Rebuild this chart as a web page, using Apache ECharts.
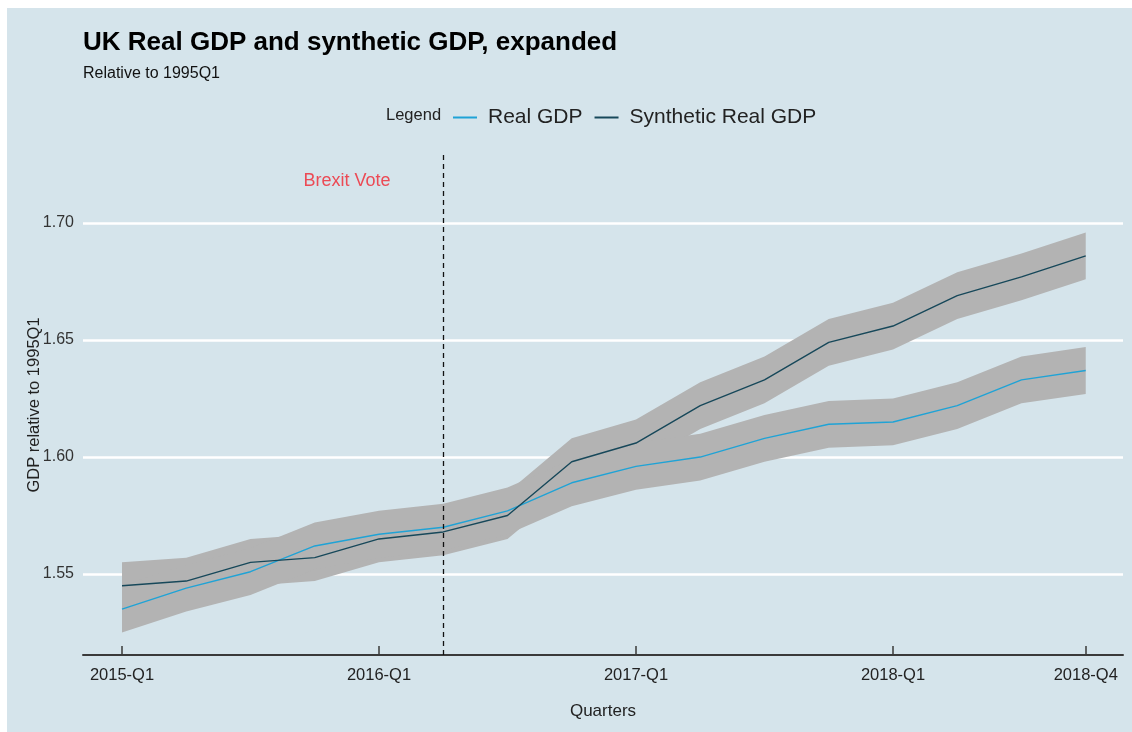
<!DOCTYPE html>
<html>
<head>
<meta charset="utf-8">
<script src="https://cdn.jsdelivr.net/npm/echarts@6/dist/echarts.min.js"></script>
<style>
  html, body { margin: 0; padding: 0; background: #ffffff; }
  #chart { width: 1132px; height: 732px; }
</style>
</head>
<body>
<div id="chart"></div>
<script>
// Quarterly GDP, indexed to 1995Q1
const quarters = [
  '2015-Q1', '2015-Q2', '2015-Q3', '2015-Q4',
  '2016-Q1', '2016-Q2', '2016-Q3', '2016-Q4',
  '2017-Q1', '2017-Q2', '2017-Q3', '2017-Q4',
  '2018-Q1', '2018-Q2', '2018-Q3', '2018-Q4'
];
const realGdp = [
  1.535, 1.544, 1.551, 1.562, 1.567, 1.570, 1.577, 1.589,
  1.596, 1.600, 1.608, 1.614, 1.615, 1.622, 1.633, 1.637
];
const syntheticGdp = [
  1.545, 1.547, 1.555, 1.557, 1.565, 1.568, 1.575, 1.598,
  1.606, 1.622, 1.633, 1.649, 1.656, 1.669, 1.677, 1.686
];
// Half-width of the shaded band around each series
const bandHalfWidth = 0.01;
const xTickQuarters = ['2015-Q1', '2016-Q1', '2017-Q1', '2018-Q1', '2018-Q4'];
const yTicks = [1.55, 1.60, 1.65, 1.70];
const brexitQuarter = '2016-Q2';

const BG = '#d5e4eb';
const BAND = '#b3b3b3';
const REAL_COLOR = '#1fa3d6';
const SYN_COLOR = '#17485a';
const FONT = 'Liberation Sans, Arial, sans-serif';

const idx = q => quarters.indexOf(q);
const xTickIdx = xTickQuarters.map(idx);
const brexitIdx = idx(brexitQuarter);

// Shaded ribbon (value ± bandHalfWidth) drawn as one polygon through the axes' scales
function bandSeries(name, values) {
  return {
    name: name + ' band', type: 'custom', silent: true, z: 1,
    data: values.map((v, i) => [i, v - bandHalfWidth, v + bandHalfWidth]),
    encode: { x: 0, y: [1, 2] },
    renderItem: function (params, api) {
      if (params.dataIndex !== 0) return null;
      const upper = values.map((v, i) => api.coord([i, v + bandHalfWidth]));
      const lower = values.map((v, i) => api.coord([i, v - bandHalfWidth])).reverse();
      return {
        type: 'polygon',
        shape: { points: upper.concat(lower) },
        style: { fill: BAND, stroke: null }
      };
    }
  };
}

const chart = echarts.init(document.getElementById('chart'), null, { renderer: 'canvas' });

chart.setOption({
  backgroundColor: BG,
  animation: false,
  title: {
    text: 'UK Real GDP and synthetic GDP, expanded',
    subtext: 'Relative to 1995Q1',
    left: 78, top: 25,
    itemGap: 10,
    textStyle: { fontFamily: FONT, fontSize: 26, fontWeight: 'bold', color: '#000' },
    subtextStyle: { fontFamily: FONT, fontSize: 16, color: '#111' }
  },
  legend: {
    data: ['Real GDP', 'Synthetic Real GDP'],
    left: 448, top: 102,
    itemWidth: 24, itemHeight: 2, itemGap: 12,
    icon: 'rect',
    textStyle: { fontFamily: FONT, fontSize: 21, color: '#222', padding: [0, 0, 0, 6] }
  },
  graphic: [
    { type: 'rect', shape: { x: 0, y: 0, width: 1132, height: 8 }, style: { fill: '#ffffff' }, silent: true },
    { type: 'rect', shape: { x: 0, y: 0, width: 7, height: 732 }, style: { fill: '#ffffff' }, silent: true },
    {
      type: 'text', x: 386, y: 115,
      style: { text: 'Legend', fontFamily: FONT, fontSize: 16.5, fill: '#222', verticalAlign: 'middle' }
    },
    {
      type: 'text', x: 347, y: 181,
      style: {
        text: 'Brexit Vote', fontFamily: FONT, fontSize: 18,
        fill: '#ec4a55', align: 'center', verticalAlign: 'middle'
      }
    }
  ],
  grid: { left: 83, right: 9, top: 155, bottom: 77, containLabel: false },
  xAxis: {
    type: 'value',
    min: -0.607, max: 15.58,
    name: 'Quarters',
    nameLocation: 'middle', nameGap: 48,
    nameMoveOverlap: false,
    nameTextStyle: { fontFamily: FONT, fontSize: 17, color: '#222' },
    axisLine: { show: true, lineStyle: { color: '#3a3a3a', width: 2 } },
    axisTick: { show: true, inside: true, length: 9, lineStyle: { color: '#3a3a3a', width: 1.5 }, customValues: xTickIdx },
    axisLabel: {
      customValues: xTickIdx,
      formatter: v => quarters[Math.round(v)] || '',
      margin: 12,
      fontFamily: FONT, fontSize: 16.5, color: '#222'
    },
    splitLine: { show: false }
  },
  yAxis: {
    type: 'value',
    min: 1.5154, max: 1.7291,
    name: 'GDP relative to 1995Q1',
    nameLocation: 'middle', nameGap: 40,
    nameMoveOverlap: false,
    nameTextStyle: { fontFamily: FONT, fontSize: 16.5, color: '#222' },
    axisLine: { show: false },
    axisTick: { show: false, customValues: yTicks },
    axisLabel: {
      customValues: yTicks,
      formatter: v => v.toFixed(2),
      margin: 9,
      fontFamily: FONT, fontSize: 16, color: '#333'
    },
    splitLine: { show: true, lineStyle: { color: '#ffffff', width: 2.5 } }
  },
  series: [
    bandSeries('Synthetic Real GDP', syntheticGdp),
    bandSeries('Real GDP', realGdp),
    {
      name: 'Real GDP', type: 'line',
      data: realGdp.map((v, i) => [i, v]),
      symbol: 'none', z: 3,
      color: REAL_COLOR,
      lineStyle: { color: REAL_COLOR, width: 1.4 }
    },
    {
      name: 'Synthetic Real GDP', type: 'line',
      data: syntheticGdp.map((v, i) => [i, v]),
      symbol: 'none', z: 3,
      color: SYN_COLOR,
      lineStyle: { color: SYN_COLOR, width: 1.4 },
      markLine: {
        silent: true, symbol: 'none', animation: false,
        label: { show: false },
        lineStyle: { color: '#111', width: 1.3, type: [5, 4] },
        data: [{ xAxis: brexitIdx }]
      }
    }
  ]
});
</script>
</body>
</html>
